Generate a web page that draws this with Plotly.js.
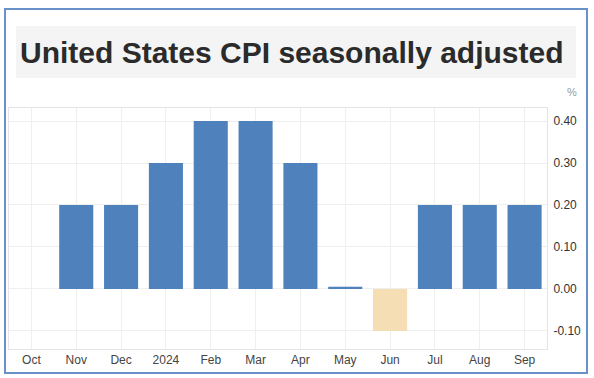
<!DOCTYPE html>
<html>
<head>
<meta charset="utf-8">
<script src="https://cdn.plot.ly/plotly-3.0.1.min.js"></script>
<style>
  html, body { margin: 0; padding: 0; background: #ffffff; }
  #chart { width: 594px; height: 378px; }
</style>
</head>
<body>
<div id="chart"></div>
<script>
const months = ["Oct", "Nov", "Dec", "2024", "Feb", "Mar", "Apr", "May", "Jun", "Jul", "Aug", "Sep"];
const cpiChange = [null, 0.2, 0.2, 0.3, 0.4, 0.4, 0.3, 0.005, -0.1, 0.2, 0.2, 0.2];
const yTickVals = [-0.1, 0, 0.1, 0.2, 0.3, 0.4];
const yTickText = ["-0.10", "0.00", "0.10", "0.20", "0.30", "0.40"];
const titleText = "United States CPI seasonally adjusted";
const unitText = "%";

const barColors = cpiChange.map(v => (v !== null && v < 0) ? "#f5deb3" : "#4f81bd");

const L = 9, R = 547, T = 108, B = 349, W = 594, H = 378;
const px = x => (x - L) / (R - L);
const py = y => (B - y) / (B - T);

const trace = {
  type: "bar",
  x: months.map((m, i) => i),
  y: cpiChange,
  marker: { color: barColors, line: { width: 0 } },
  hoverinfo: "none"
};

const layout = {
  width: W, height: H,
  margin: { l: L, r: W - R, t: T, b: H - B, pad: 0 },
  paper_bgcolor: "#ffffff",
  plot_bgcolor: "#ffffff",
  bargap: 0.24,
  showlegend: false,
  font: { family: "Liberation Sans, Arial, sans-serif", size: 12, color: "#444" },
  xaxis: {
    range: [-0.5, 11.5],
    tickmode: "array",
    tickvals: months.map((m, i) => i),
    ticktext: months,
    showgrid: true, gridcolor: "#efefef", gridwidth: 1,
    showline: true, linecolor: "#e4e4e4", linewidth: 1, mirror: true,
    zeroline: false, ticks: "",
    tickfont: { size: 12, color: "#444" },
    fixedrange: true
  },
  yaxis: {
    side: "right",
    range: [-0.143, 0.431],
    tickmode: "array",
    tickvals: yTickVals,
    ticktext: yTickText,
    showgrid: true, gridcolor: "#efefef", gridwidth: 1,
    showline: true, linecolor: "#e4e4e4", linewidth: 1, mirror: true,
    zeroline: false, ticks: "",
    ticklabelstandoff: 3,
    tickfont: { size: 12, color: "#333" },
    fixedrange: true
  },
  shapes: [
    { type: "rect", xref: "paper", yref: "paper", layer: "below",
      x0: px(16), x1: px(576), y0: py(78), y1: py(26),
      fillcolor: "#f4f4f4", line: { width: 0 } },
    { type: "rect", xref: "paper", yref: "paper",
      x0: px(5), x1: px(587), y0: py(373), y1: py(9),
      fillcolor: "rgba(0,0,0,0)", line: { color: "#6a90c9", width: 2 } }
  ],
  annotations: [
    { text: titleText, xref: "paper", yref: "paper",
      x: px(292), y: py(53), xanchor: "center", yanchor: "middle",
      showarrow: false,
      font: { family: "Liberation Sans, Arial, sans-serif", size: 30, color: "#2b2b2b", weight: "bold" } },
    { text: unitText, xref: "paper", yref: "paper",
      x: px(572), y: py(92), xanchor: "center", yanchor: "middle",
      showarrow: false,
      font: { size: 11, color: "#999" } }
  ]
};

Plotly.newPlot("chart", [trace], layout, { displayModeBar: false, staticPlot: true });
</script>
</body>
</html>
